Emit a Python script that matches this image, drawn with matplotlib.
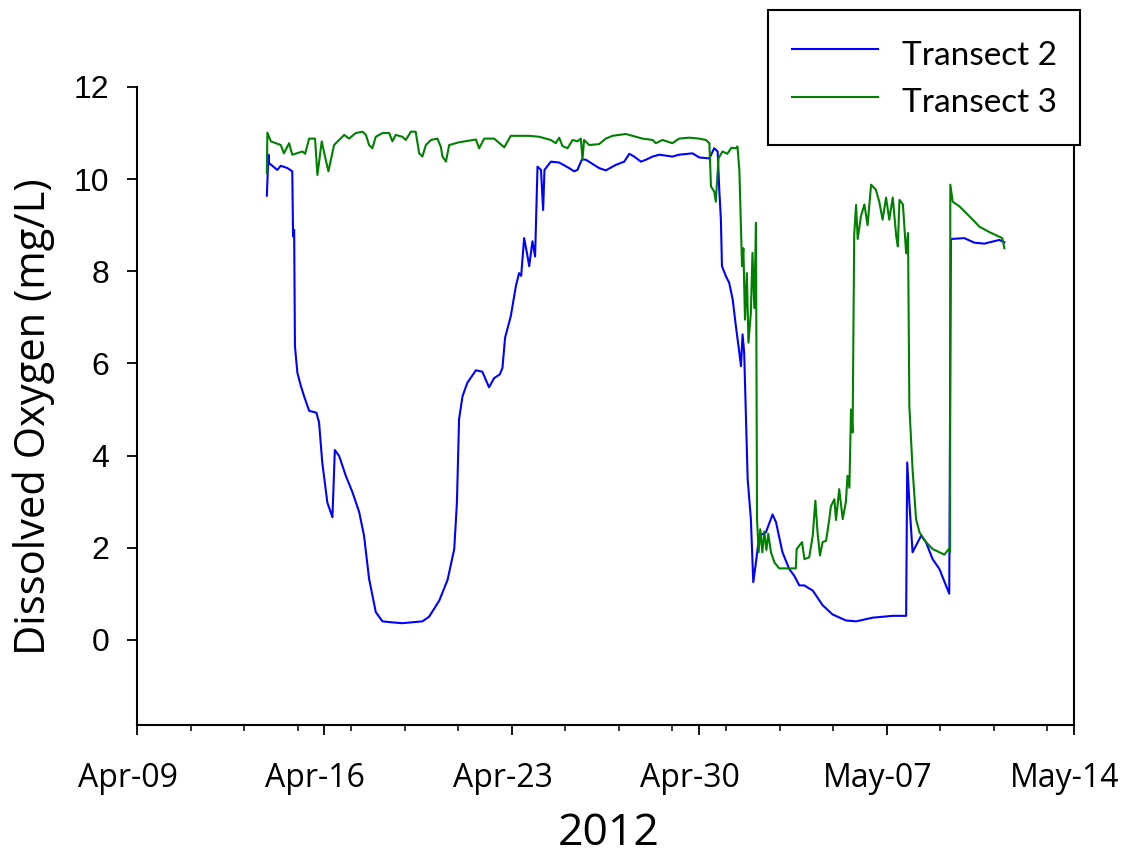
import numpy as np
import matplotlib
matplotlib.use("Agg")
import matplotlib.pyplot as plt
import matplotlib.dates as mdates
import matplotlib.transforms as mtransforms
from matplotlib import font_manager

# ---------------- data (days since 2012-04-09 00:00, dissolved oxygen mg/L) ----------------
t2_days = [4.85, 4.91, 4.93, 5.24, 5.37, 5.62, 5.80, 5.83, 5.87, 5.90, 5.99, 6.12, 6.24, 6.43,
           6.70, 6.80, 6.92, 7.11, 7.30, 7.39, 7.55, 7.80, 8.05, 8.30, 8.48, 8.67, 8.92, 9.17,
           9.50, 9.91, 10.30, 10.66, 10.91, 11.29, 11.60, 11.85, 11.95, 12.03, 12.16, 12.34,
           12.66, 12.90, 13.15, 13.34, 13.55, 13.65, 13.75, 13.96, 14.15, 14.27, 14.35, 14.46,
           14.59, 14.65, 14.77, 14.87, 14.96, 15.09, 15.17, 15.22, 15.46, 15.77, 16.14, 16.33,
           16.45, 16.62, 16.77, 17.26, 17.51, 17.89, 18.20, 18.39, 18.57, 18.82, 19.01, 19.26,
           19.51, 20.00, 20.25, 20.75, 21.00, 21.38, 21.56, 21.69, 21.75, 21.81, 21.85, 22.00,
           22.12, 22.25, 22.37, 22.50, 22.56, 22.62, 22.68, 22.81, 22.93, 23.02, 23.12, 23.24,
           23.49, 23.74, 23.87, 24.11, 24.36, 24.55, 24.74, 24.93, 25.09, 25.24, 25.61, 25.98,
           26.48, 26.86, 27.48, 28.23, 28.73, 28.77, 28.85, 28.97, 29.29, 29.47, 29.72, 29.97,
           30.34, 30.40, 30.90, 31.28, 31.65, 32.21, 32.40]
t2_vals = [9.64, 10.53, 10.35, 10.20, 10.29, 10.24, 10.17, 8.76, 8.90, 6.37, 5.80, 5.51, 5.29, 4.97,
           4.93, 4.72, 3.85, 2.98, 2.66, 4.12, 3.99, 3.56, 3.20, 2.77, 2.26, 1.32, 0.60, 0.40,
           0.38, 0.36, 0.38, 0.40, 0.50, 0.85, 1.30, 1.97, 2.98, 4.79, 5.29, 5.58,
           5.85, 5.82, 5.48, 5.68, 5.76, 5.90, 6.56, 7.02, 7.67, 7.96, 7.90, 8.72,
           8.32, 8.11, 8.65, 8.32, 10.27, 10.20, 9.33, 10.20, 10.38, 10.36, 10.24, 10.17,
           10.20, 10.43, 10.42, 10.24, 10.19, 10.31, 10.38, 10.55, 10.49, 10.38, 10.42, 10.49,
           10.53, 10.49, 10.53, 10.56, 10.47, 10.45, 10.67, 10.60, 9.77, 9.12, 8.11, 7.89,
           7.75, 7.39, 6.81, 6.23, 5.94, 6.63, 6.23, 3.49, 2.62, 1.25, 1.68, 2.26,
           2.33, 2.72, 2.55, 1.90, 1.54, 1.39, 1.18, 1.18, 1.12, 1.07, 0.75, 0.55,
           0.42, 0.40, 0.48, 0.52, 0.52, 3.85, 2.98, 1.90, 2.26, 2.12, 1.75, 1.54,
           1.00, 8.70, 8.72, 8.62, 8.60, 8.68, 8.63]

t3_days = [4.85, 4.87, 5.00, 5.37, 5.49, 5.68, 5.80, 6.18, 6.28, 6.43, 6.65, 6.74, 6.90, 7.05,
           7.15, 7.36, 7.55, 7.74, 7.92, 8.17, 8.42, 8.55, 8.67, 8.79, 8.92, 9.17, 9.42, 9.54,
           9.66, 9.91, 10.04, 10.23, 10.41, 10.54, 10.66, 10.79, 10.98, 11.22, 11.35, 11.41,
           11.54, 11.66, 12.03, 12.66, 12.78, 12.97, 13.34, 13.72, 13.96, 14.65, 15.02, 15.46,
           15.64, 15.77, 15.89, 16.08, 16.27, 16.45, 16.58, 16.64, 16.70, 16.89, 17.26, 17.51,
           17.76, 18.26, 18.51, 18.88, 19.26, 19.38, 19.63, 20.00, 20.25, 20.63, 21.00, 21.25,
           21.38, 21.44, 21.56, 21.62, 21.72, 21.87, 22.05, 22.20, 22.37, 22.43, 22.50, 22.60,
           22.65, 22.71, 22.78, 22.84, 22.93, 22.99, 23.06, 23.12, 23.16, 23.22, 23.28, 23.36,
           23.43, 23.51, 23.58, 23.68, 23.81, 23.99, 24.61, 24.64, 24.84, 24.93, 25.11, 25.24,
           25.34, 25.42, 25.51, 25.61, 25.74, 25.86, 25.92, 26.05, 26.11, 26.23, 26.36, 26.48,
           26.54, 26.61, 26.67, 26.73, 26.79, 26.86, 26.92, 27.04, 27.17, 27.29, 27.42, 27.60,
           27.73, 27.85, 27.98, 28.10, 28.23, 28.36, 28.42, 28.48, 28.61, 28.73, 28.80, 28.85,
           28.97, 29.10, 29.23, 29.47, 29.72, 29.97, 30.16, 30.32, 30.37, 30.38, 30.47, 30.72,
           31.22, 31.46, 31.84, 32.21, 32.32, 32.40]
t3_vals = [10.13, 11.01, 10.82, 10.74, 10.56, 10.78, 10.53, 10.60, 10.55, 10.88, 10.88, 10.09, 10.82, 10.42,
           10.17, 10.74, 10.85, 10.96, 10.88, 11.00, 11.03, 10.96, 10.74, 10.67, 10.92, 11.00, 11.00, 10.82,
           10.96, 10.92, 10.85, 11.03, 11.03, 10.56, 10.49, 10.74, 10.85, 10.88, 10.70, 10.49,
           10.38, 10.74, 10.80, 10.86, 10.67, 10.88, 10.88, 10.69, 10.94, 10.94, 10.92, 10.85,
           10.78, 10.90, 10.72, 10.67, 10.85, 10.82, 10.88, 10.42, 10.85, 10.74, 10.76, 10.88,
           10.94, 10.98, 10.94, 10.88, 10.85, 10.78, 10.85, 10.78, 10.88, 10.90, 10.88, 10.85,
           10.78, 9.84, 9.73, 9.51, 10.45, 10.60, 10.55, 10.68, 10.67, 10.71, 10.20, 8.11,
           8.50, 6.95, 7.96, 6.45, 7.10, 8.40, 7.20, 9.05, 2.62, 1.90, 2.40, 1.90,
           2.35, 1.95, 2.30, 1.90, 1.68, 1.55, 1.55, 1.97, 2.12, 1.75, 1.79, 2.26,
           3.02, 2.33, 1.83, 2.12, 2.15, 2.62, 2.90, 3.05, 2.60, 3.27, 2.62, 3.00,
           3.56, 3.30, 5.00, 4.50, 8.79, 9.44, 8.70, 9.19, 9.45, 9.00, 9.88, 9.77,
           9.50, 9.12, 9.60, 9.12, 9.60, 8.76, 8.54, 9.55, 9.45, 8.39, 8.83, 5.07,
           3.70, 2.62, 2.33, 2.12, 1.97, 1.90, 1.85, 1.97, 1.90, 9.88, 9.51, 9.41,
           9.12, 8.97, 8.85, 8.75, 8.72, 8.50]

series_labels = ["Transect 2", "Transect 3"]
series_colors = ["#0000FF", "#008000"]
start_date = np.datetime64("2012-04-09T00:00")
x_range = ("2012-04-09", "2012-05-14")
y_range = (-1.85, 12)
y_ticks = [0, 2, 4, 6, 8, 10, 12]
x_label = "2012"
y_label = "Dissolved Oxygen (mg/L)"


def to_dates(days):
    secs = np.round(np.asarray(days) * 86400).astype("int64").astype("timedelta64[s]")
    return start_date + secs


def pick(cands):
    avail = {f.name for f in font_manager.fontManager.ttflist}
    out = [c for c in cands if c in avail]
    return out + ["DejaVu Sans"]


narrow = pick(["Liberation Sans Narrow", "Open Sans", "Lato"])
calib = pick(["Lato", "Open Sans", "Liberation Sans"])
arial = pick(["Liberation Sans", "DejaVu Sans"])

fig = plt.figure(figsize=(11.26, 8.57), dpi=100)
ax = fig.add_axes([137 / 1126, 1 - 725 / 857, (1074 - 137) / 1126, (725 - 87) / 857])

for d, v, lab, col in zip([t2_days, t3_days], [t2_vals, t3_vals], series_labels, series_colors):
    ax.plot(to_dates(d), v, color=col, lw=1.5, label=lab)

ax.set_xlim(np.datetime64(x_range[0]), np.datetime64(x_range[1]))
ax.set_ylim(*y_range)
ax.set_yticks(y_ticks)

ax.xaxis.set_major_locator(mdates.WeekdayLocator(byweekday=mdates.MO))
ax.xaxis.set_minor_locator(mdates.DayLocator(bymonthday=range(1, 32, 2)))
ax.xaxis.set_major_formatter(mdates.DateFormatter("%b-%d"))

ax.spines["top"].set_visible(False)
for s in ["left", "bottom", "right"]:
    ax.spines[s].set_linewidth(1.5)
ax.tick_params(axis="y", which="major", direction="out", length=7, width=1.3, pad=13,
               labelsize=23)
ax.tick_params(axis="x", which="major", direction="out", length=7.5, width=1.3, pad=19,
               labelsize=23)
ax.tick_params(axis="x", which="minor", direction="out", length=4.5, width=1.1)
for lbl in ax.get_yticklabels():
    lbl.set_family(arial)
shift = mtransforms.ScaledTranslation(-9 / 100, 0, fig.dpi_scale_trans)
for lbl in ax.get_xticklabels():
    lbl.set_family(narrow)
    lbl.set_transform(lbl.get_transform() + shift)

ax.set_ylabel(y_label, fontsize=30, family=narrow)
ax.yaxis.set_label_coords(-0.087, 0.483)
ax.set_xlabel(x_label, fontsize=32, family=narrow)
ax.xaxis.set_label_coords(0.503, -0.135)

leg = fig.legend(loc="upper right", bbox_to_anchor=(1080 / 1126, 1 - 10 / 857),
                 prop={"family": calib, "size": 24}, frameon=True, fancybox=False,
                 borderpad=0.7, handlelength=2.6, handletextpad=0.7, labelspacing=0.19,
                 handleheight=1.52, borderaxespad=0)
leg.get_frame().set_edgecolor("black")
leg.get_frame().set_linewidth(1.5)
leg.get_frame().set_alpha(1)

fig.savefig("out.png", dpi=100)
